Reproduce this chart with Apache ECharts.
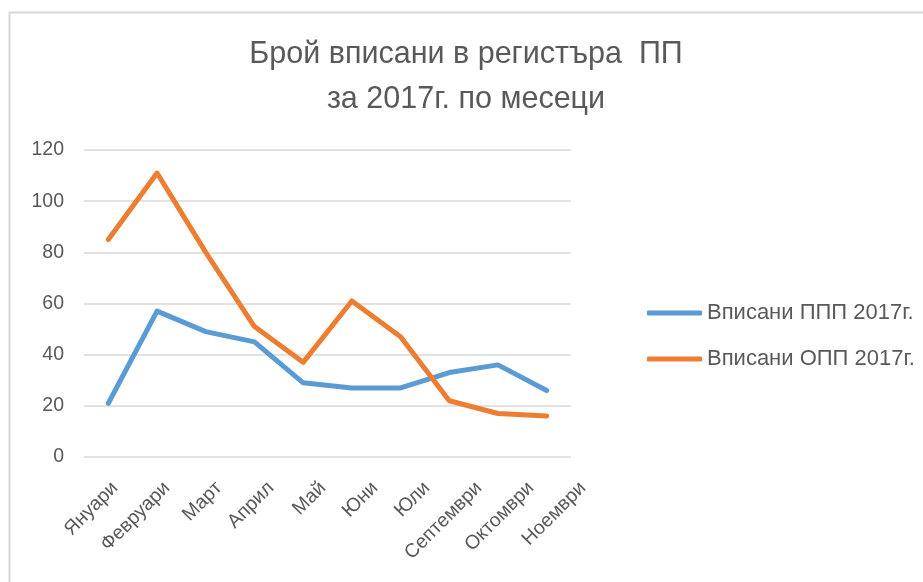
<!DOCTYPE html>
<html>
<head>
<meta charset="utf-8">
<script src="https://cdn.jsdelivr.net/npm/echarts@6/dist/echarts.min.js"></script>
<style>html,body{margin:0;padding:0;background:#fff}#c{width:923px;height:582px}</style>
</head>
<body>
<div id="c"></div>
<script>
const categories = ['Януари','Февруари','Март','Април','Май','Юни','Юли','Септември','Октомври','Ноември'];
const seriesNames = ['Вписани ППП 2017г.','Вписани ОПП 2017г.'];
const pppValues = [21, 57, 49, 45, 29, 27, 27, 33, 36, 26];
const oppValues = [85, 111, 80, 51, 37, 61, 47, 22, 17, 16];
const yTicks = [0, 20, 40, 60, 80, 100, 120];

const FONT = "'Liberation Sans', Arial, sans-serif";
const GREY = '#595959';
const chart = echarts.init(document.getElementById('c'));
chart.setOption({
  animation: false,
  backgroundColor: '#fff',
  textStyle: { fontFamily: FONT },
  graphic: [{
    type: 'rect', z: -10,
    shape: { x: 9.5, y: 12.5, width: 960, height: 620 },
    style: { fill: '#fff', stroke: '#D9D9D9', lineWidth: 2 }
  }],
  title: {
    text: 'Брой вписани в регистъра  ПП\nза 2017г. по месеци',
    left: 461, top: 27, textAlign: 'center',
    textStyle: { fontFamily: FONT, fontSize: 30.5, fontWeight: 'normal', color: GREY, lineHeight: 45 }
  },
  legend: {
    orient: 'vertical', left: 647, top: 302, itemGap: 24, padding: 0,
    itemWidth: 55, itemHeight: 5, icon: 'roundRect',
    data: seriesNames,
    textStyle: { fontFamily: FONT, fontSize: 22, color: GREY }
  },
  grid: [
    { left: 84, right: 352, top: 150, bottom: 125, containLabel: false },
    { left: 89, right: 314, top: 150, bottom: 125, containLabel: false, show: false }
  ],
  xAxis: [
    { type: 'category', gridIndex: 0, data: categories, boundaryGap: true,
      axisLine: { show: false }, axisTick: { show: false }, axisLabel: { show: false } },
    { type: 'category', gridIndex: 1, data: categories, boundaryGap: true,
      axisLine: { show: false }, axisTick: { show: false }, splitLine: { show: false },
      axisLabel: { rotate: 45, fontSize: 19.5, color: GREY, margin: 28, interval: 0, fontFamily: FONT } }
  ],
  yAxis: [
    { type: 'value', gridIndex: 0, min: yTicks[0], max: yTicks[yTicks.length-1], interval: 20,
      axisLine: { show: false }, axisTick: { show: false },
      axisLabel: { fontSize: 19.5, color: GREY, margin: 20, fontFamily: FONT },
      splitLine: { lineStyle: { color: '#D9D9D9', width: 1.5 } } },
    { type: 'value', gridIndex: 1, min: yTicks[0], max: yTicks[yTicks.length-1], interval: 20, show: false,
      splitLine: { show: false } }
  ],
  series: [
    { name: seriesNames[0], type: 'line', xAxisIndex: 0, yAxisIndex: 0, data: pppValues, symbol: 'none',
      lineStyle: { color: '#5B9BD5', width: 5, cap: 'round', join: 'round' }, itemStyle: { color: '#5B9BD5' } },
    { name: seriesNames[1], type: 'line', xAxisIndex: 0, yAxisIndex: 0, data: oppValues, symbol: 'none',
      lineStyle: { color: '#ED7D31', width: 5, cap: 'round', join: 'round' }, itemStyle: { color: '#ED7D31' } }
  ]
});
</script>
</body>
</html>
